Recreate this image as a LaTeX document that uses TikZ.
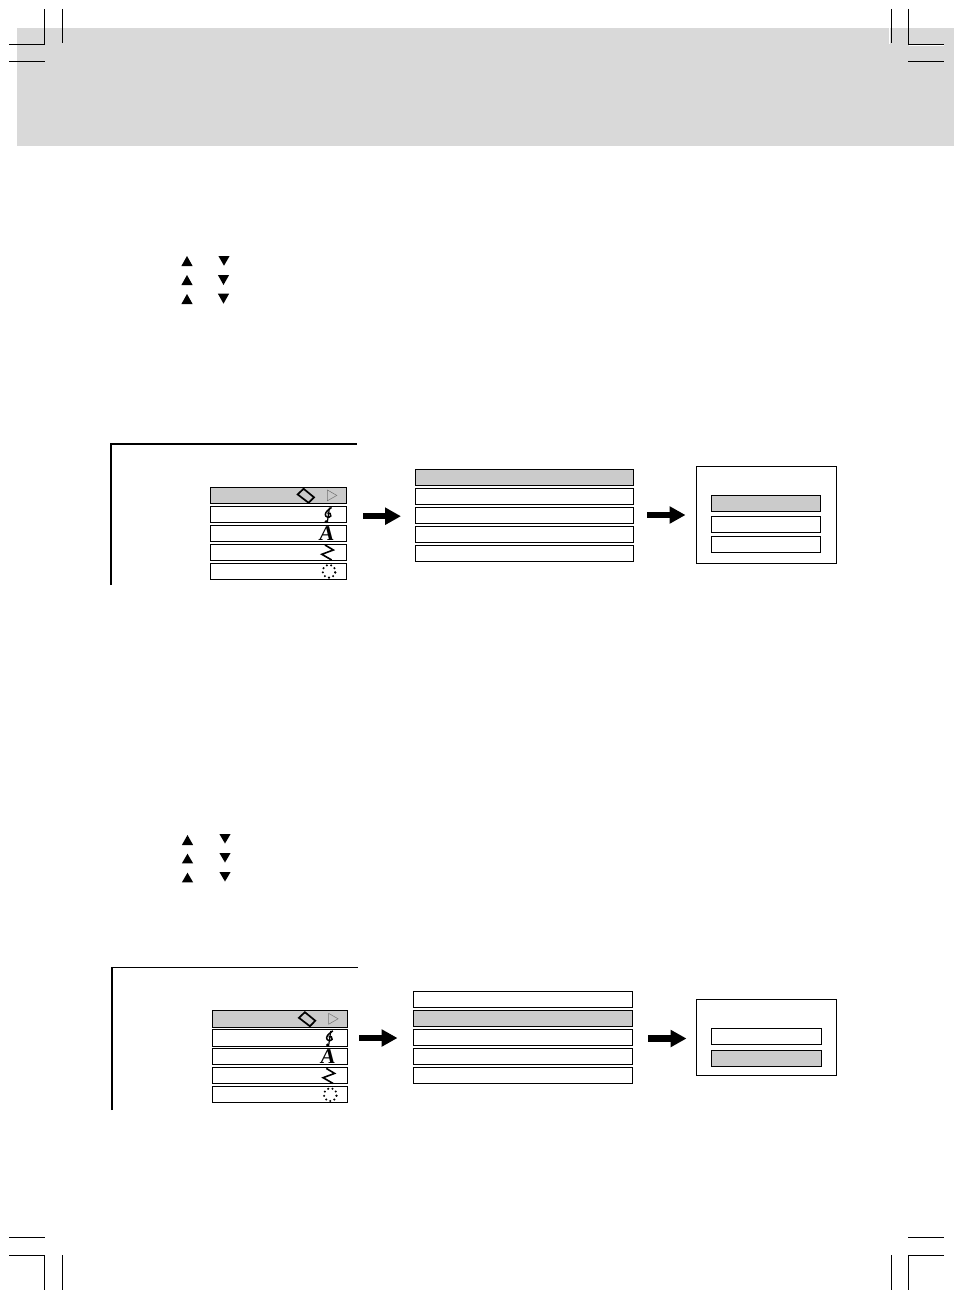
\documentclass[tikz,border=0pt]{standalone}
\usepackage{fontspec}
\setmainfont{Liberation Serif}
\usetikzlibrary{arrows.meta}
\definecolor{band}{HTML}{D9D9D9}
\definecolor{sel}{HTML}{CBCBCB}
\tikzset{
  bx/.style={draw=black,line width=0.9pt,rectangle,inner sep=0pt,outer sep=0pt,fill=white},
  selbx/.style={bx,fill=sel},
  panel/.style={bx},
  crop/.style={draw=black,line width=0.9pt},
  halo/.style={draw=white,line width=1pt},
  frameline/.style={draw=black,line width=2pt},
  blockarrow/.style={draw=black,line width=6.5pt,-{Triangle[length=16pt,width=16.5pt]}},
  tri/.style={fill=black,draw=none},
  icon/.style={draw=black,line width=1.7pt,line join=miter}
}
\newcommand{\bx}[6]{%
  \pgfmathsetmacro{\cxx}{(#3+#5)/2}\pgfmathsetmacro{\cyy}{(#4+#6)/2}%
  \pgfmathsetmacro{\www}{#5-#3}\pgfmathsetmacro{\hhh}{#6-#4}%
  \node[#2,minimum width=\www pt,minimum height=\hhh pt] (#1) at (\cxx,\cyy) {};}
\newcommand{\uptri}[3]{\fill[tri] (#1-5.6,#3) -- (#1+5.6,#3) -- (#1,#2) -- cycle;}
\newcommand{\dntri}[3]{\fill[tri] (#1-5.6,#2) -- (#1+5.6,#2) -- (#1,#3) -- cycle;}
\newcommand{\icons}{%
  \draw[icon] (297.6,494.4) -- (303.6,488.8) -- (314,497.3) -- (308.6,502.8) -- cycle;
  \draw[draw=black!55,line width=0.5pt] (327.4,490) -- (327.4,500.8) -- (336.8,495.4) -- cycle;
  % clef
  \draw[draw=black,line width=1.5pt] (331.5,507.4) .. controls (329,509.5) and (325.5,511.5) .. (325.3,514.5) .. controls (325.2,517) and (329,518.3) .. (330.8,516) .. controls (331.8,514) and (329,511.8) .. (327.3,513.5);
  \draw[draw=black,line width=1.2pt] (329.5,507.5) -- (327.3,522.5);
  \fill (326.2,521.6) circle (1.6);
  % A
  \node[inner sep=0pt,font=\bfseries\fontsize{21}{21}\selectfont,xslant=0.12] (iconA\iconid) at (326.8,533.6) {A};
  % zigzag
  \draw[draw=black,line width=1.6pt] (325,545) -- (333.3,550) -- (321.8,554.3) -- (331.7,560);
  % dotted ring
  \foreach \a in {10,50,...,370} {\fill ({329+6.3*cos(\a)},{571.3+6.3*sin(\a)}) circle (1.15);}
}
\begin{document}
\begin{tikzpicture}[x=1pt,y=-1pt]
\useasboundingbox (0,0) rectangle (954,1300);
% header band
\fill[band] (17,28) rectangle (954,146);
% crop marks top
\draw[crop] (9,44.3) -- (44.5,44.3) -- (44.5,9);
\draw[crop] (62.4,9) -- (62.4,43.5);
\draw[crop] (9,61.3) -- (45,61.3);
\draw[halo] (889.9,28) -- (889.9,44);
\draw[halo] (908.6,45.6) -- (944,45.6);
\draw[crop] (891.5,9) -- (891.5,43.5);
\draw[crop] (908.4,9) -- (908.4,44.3) -- (944,44.3);
\draw[crop] (908.4,61.3) -- (944,61.3);
% crop marks bottom
\draw[crop] (9,1237.3) -- (45,1237.3);
\draw[crop] (9,1255.3) -- (44.5,1255.3) -- (44.5,1290);
\draw[crop] (62.4,1255) -- (62.4,1290);
\draw[crop] (908.4,1237.3) -- (944,1237.3);
\draw[crop] (944,1255.3) -- (908.4,1255.3) -- (908.4,1290);
\draw[crop] (891.5,1255) -- (891.5,1290);
% triangles
\foreach \t/\b in {256/266,275/285,294/304}{\uptri{187}{\t}{\b}}
\dntri{224}{256}{265.7}\dntri{223.5}{275}{285}\dntri{223.5}{293.7}{303.7}
\foreach \t/\b in {835/845,853.7/863.3,872.7/882.3}{\uptri{187.5}{\t}{\b}}
\foreach \t/\b in {834/843.5,853/862.5,872/881.5}{\dntri{225}{\t}{\b}}
% ---- first diagram
\draw[frameline] (111,585) -- (111,444) -- (357,444);
\bx{ma1}{selbx}{210.5}{487.5}{346.7}{503.7}
\bx{ma2}{bx}{210.5}{506.3}{346.7}{522.7}
\bx{ma3}{bx}{210.5}{525.3}{346.7}{541.7}
\bx{ma4}{bx}{210.5}{544.3}{346.7}{560.3}
\bx{ma5}{bx}{210.5}{563.3}{346.7}{579.3}
\def\iconid{a}\icons
\coordinate (a1s) at (363,516.2);
\coordinate (a1e) at (401,516.2);
\draw[blockarrow] (a1s) -- (a1e);
\bx{na1}{selbx}{415.3}{469.3}{633.7}{485.3}
\bx{na2}{bx}{415.3}{488.3}{633.7}{504.3}
\bx{na3}{bx}{415.3}{507.3}{633.7}{523.3}
\bx{na4}{bx}{415.3}{526.3}{633.7}{542.3}
\bx{na5}{bx}{415.3}{545.3}{633.7}{561.3}
\coordinate (a2s) at (647,515);
\coordinate (a2e) at (685.5,515);
\draw[blockarrow] (a2s) -- (a2e);
\bx{pa}{panel}{696.4}{466.3}{836.4}{563.3}
\bx{pa1}{selbx}{711.3}{495.3}{820.7}{511.3}
\bx{pa2}{bx}{711.3}{516.3}{820.7}{532.3}
\bx{pa3}{bx}{711.3}{536.3}{820.7}{552.3}
% ---- second diagram
\draw[frameline] (112,1110) -- (112,967);
\draw[draw=black,line width=1.2pt] (111,967.3) -- (358,967.3);
\bx{mb1}{selbx}{212.3}{1010.7}{347.7}{1027.3}
\bx{mb2}{bx}{212.3}{1029.3}{347.7}{1046.3}
\bx{mb3}{bx}{212.3}{1048.3}{347.7}{1064.3}
\bx{mb4}{bx}{212.3}{1067.3}{347.7}{1083.3}
\bx{mb5}{bx}{212.3}{1086.3}{347.7}{1102.3}
\begin{scope}[shift={(1.3,523.4)}]
\def\iconid{b}\icons
\end{scope}
\coordinate (b1s) at (359,1038);
\coordinate (b1e) at (397.5,1038);
\draw[blockarrow] (b1s) -- (b1e);
\bx{nb1}{bx}{413.3}{991.3}{632.3}{1007.3}
\bx{nb2}{selbx}{413.3}{1010.3}{632.3}{1026.3}
\bx{nb3}{bx}{413.3}{1029.5}{632.3}{1045.4}
\bx{nb4}{bx}{413.3}{1048.5}{632.3}{1064.4}
\bx{nb5}{bx}{413.3}{1067.5}{632.3}{1083.4}
\coordinate (b2s) at (648,1038.5);
\coordinate (b2e) at (686.5,1038.5);
\draw[blockarrow] (b2s) -- (b2e);
\bx{pb}{panel}{696.4}{999.3}{836.6}{1075.7}
\bx{pb1}{bx}{711.3}{1028.3}{821.7}{1044.7}
\bx{pb2}{selbx}{711.3}{1050.3}{821.7}{1066.7}
\end{tikzpicture}
\end{document}
